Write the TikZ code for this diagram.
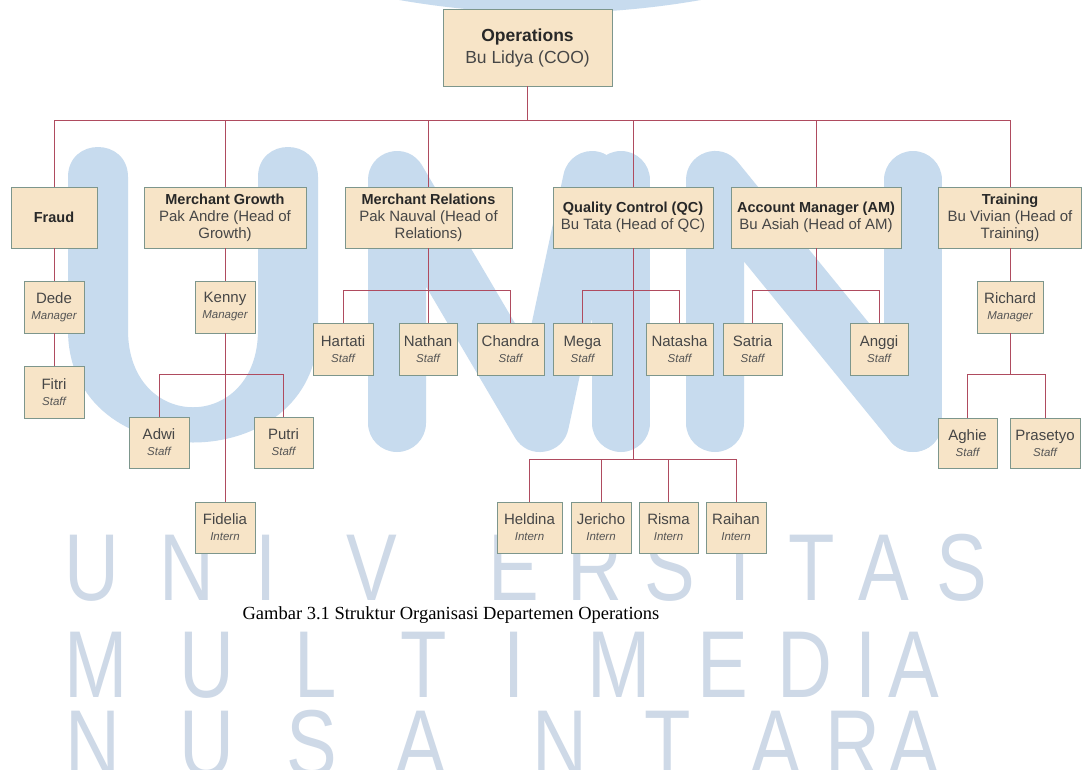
\documentclass[tikz,border=0pt]{standalone}
\usepackage{fontspec}
\setmainfont{Liberation Sans}
\newfontfamily\capfont{Liberation Serif}
\definecolor{boxfill}{RGB}{247,228,199}
\definecolor{boxline}{RGB}{125,150,140}
\definecolor{linecol}{RGB}{175,75,95}
\definecolor{txtdark}{RGB}{40,40,40}
\definecolor{txtmid}{RGB}{70,70,70}
\definecolor{txtrole}{RGB}{85,85,85}
\definecolor{wmblue}{RGB}{199,219,238}
\definecolor{wmgray}{RGB}{206,217,231}
\newcommand{\ttl}[1]{{\bfseries\color{txtdark}\fontsize{14.5}{17}\selectfont #1}}
\newcommand{\role}[1]{{\color{txtrole}\itshape\fontsize{11.5}{16}\selectfont #1}}
\begin{document}
\begin{tikzpicture}[x=1pt,y=-1pt,
  box/.style={draw=boxline, fill=boxfill, line width=0.9pt, inner sep=0pt, align=center, text=txtmid},
  headbox/.style={box, minimum height=61, font=\fontsize{15}{17}\selectfont},
  namebox/.style={box, minimum height=52, font=\fontsize{15}{16}\selectfont},
  conn/.style={draw=linecol, line width=0.9pt},
  wm/.style={draw=wmblue, line width=58pt, line cap=round, line join=round},
  wmletter/.style={text=wmgray, font=\fontsize{95}{95}\selectfont, anchor=base, inner sep=0pt}
]
\useasboundingbox (0,0) rectangle (1083,769);
\fill[white] (0,0) rectangle (1083,769);

% ---------- watermark ----------
\begin{scope}
\clip (0,0) rectangle (1083,769);
\fill[wmblue] (550,-859) circle[radius=872];
% U
\fill[wmblue] (68,177) -- (68,330) .. controls (68,480) and (318,480) .. (318,330)
  -- (318,177) .. controls (318,137) and (258,137) .. (258,177)
  -- (258,330) .. controls (258,433) and (128,433) .. (128,330)
  -- (128,177) .. controls (128,137) and (68,137) .. (68,177) -- cycle;
% M
\draw[wm] (397,423) -- (397,180) -- (540,423) -- (592,180);
\draw[wm] (621,180) -- (621,423);
% N
\draw[wm] (715,423) -- (715,180) -- (913,423);
\draw[wm] (913,180) -- (913,423);
% letter rows
\foreach \l/\x [count=\i] in {U/92,N/187,I/266,V/372,E/514,R/595,S/670,I/740,T/812,A/884,S/962}
  \node[wmletter] (wa\i) at (\x,600) {\scalebox{0.8}[1]{\l}};
\foreach \l/\x [count=\i] in {M/96,U/207,L/316,T/424,I/514,M/619,E/723,D/805,I/866,A/914}
  \node[wmletter] (wb\i) at (\x,697) {\scalebox{0.8}[1]{\l}};
\foreach \l/\x [count=\i] in {N/93,U/207,S/312,A/421,N/560,T/668,A/776,R/853,A/914}
  \node[wmletter] (wc\i) at (\x,776) {\scalebox{0.8}[1]{\l}};
\end{scope}

% ---------- nodes ----------
\node[box, minimum width=169, minimum height=77, font=\fontsize{17.5}{22}\selectfont] (ops) at (527.5,47.5)
  {{\bfseries\color{txtdark}Operations}\\Bu Lidya (COO)};

\node[headbox, minimum width=86]  (fraud) at (54,217.5) {\ttl{Fraud}};
\node[headbox, minimum width=162] (mg) at (225,217.5) {\ttl{Merchant Growth}\\Pak Andre (Head of\\Growth)};
\node[headbox, minimum width=167] (mr) at (428.5,217.5) {\ttl{Merchant Relations}\\Pak Nauval (Head of\\Relations)};
\node[headbox, minimum width=160] (qc) at (633,217.5) {\ttl{Quality Control (QC)}\\Bu Tata (Head of QC)};
\node[headbox, minimum width=170] (am) at (816,217.5) {\ttl{Account Manager (AM)}\\Bu Asiah (Head of AM)};
\node[headbox, minimum width=143] (tr) at (1010,217.5) {\ttl{Training}\\Bu Vivian (Head of\\Training)};

\node[namebox, minimum width=60] (dede) at (54,307) {Dede\\\role{Manager}};
\node[namebox, minimum width=60] (fitri) at (54,392) {Fitri\\\role{Staff}};
\node[namebox, minimum width=60] (kenny) at (225,307) {Kenny\\\role{Manager}};
\node[namebox, minimum width=66] (richard) at (1010,307) {Richard\\\role{Manager}};

\node[namebox, minimum width=60] (hartati) at (343,349) {Hartati\\\role{Staff}};
\node[namebox, minimum width=58] (nathan) at (428,349) {Nathan\\\role{Staff}};
\node[namebox, minimum width=67] (chandra) at (510.5,349) {Chandra\\\role{Staff}};
\node[namebox, minimum width=59] (mega) at (582.5,349) {Mega\\\role{Staff}};
\node[namebox, minimum width=67] (natasha) at (679.5,349) {Natasha\\\role{Staff}};
\node[namebox, minimum width=59] (satria) at (752.5,349) {Satria\\\role{Staff}};
\node[namebox, minimum width=58] (anggi) at (879,349) {Anggi\\\role{Staff}};

\node[namebox, minimum width=60, minimum height=51] (adwi) at (159,442.5) {Adwi\\\role{Staff}};
\node[namebox, minimum width=59, minimum height=51] (putri) at (283.5,442.5) {Putri\\\role{Staff}};
\node[namebox, minimum width=59, minimum height=50] (aghie) at (967.5,443) {Aghie\\\role{Staff}};
\node[namebox, minimum width=70, minimum height=50] (prasetyo) at (1045,443) {Prasetyo\\\role{Staff}};

\node[namebox, minimum width=60, minimum height=51] (fidelia) at (225,527.5) {Fidelia\\\role{Intern}};
\node[namebox, minimum width=65, minimum height=51] (heldina) at (529.5,527.5) {Heldina\\\role{Intern}};
\node[namebox, minimum width=60, minimum height=51] (jericho) at (601,527.5) {Jericho\\\role{Intern}};
\node[namebox, minimum width=59, minimum height=51] (risma) at (668.5,527.5) {Risma\\\role{Intern}};
\node[namebox, minimum width=60, minimum height=51] (raihan) at (736,527.5) {Raihan\\\role{Intern}};

\node[anchor=base, inner sep=0pt, font=\capfont\fontsize{18.5}{20}\selectfont] (cap) at (451,619)
  {Gambar 3.1 Struktur Organisasi Departemen Operations};

% ---------- connectors ----------
\coordinate (y120) at (0,120);
\coordinate (y290) at (0,290);
\coordinate (y374) at (0,374);
\coordinate (y459) at (0,459);

\coordinate (b0) at (ops.south |- y120);
\draw[conn] (ops.south) -- (b0);
\foreach \n in {fraud,mg,mr,qc,am,tr} \draw[conn] (b0) -| (\n.north);

\draw[conn] (fraud.south) -- (dede.north);
\draw[conn] (dede.south) -- (fitri.north);

\coordinate (kb) at (kenny.south |- y374);
\draw[conn] (mg.south) -- (kenny.north);
\draw[conn] (kenny.south) -- (fidelia.north);
\foreach \n in {adwi,putri} \draw[conn] (kb) -| (\n.north);

\coordinate (mrb) at (mr.south |- y290);
\draw[conn] (mr.south) -- (mrb);
\foreach \n in {hartati,nathan,chandra} \draw[conn] (mrb) -| (\n.north);

\coordinate (qcb) at (qc.south |- y290);
\coordinate (qib) at (qc.south |- y459);
\draw[conn] (qc.south) -- (qib);
\foreach \n in {mega,natasha} \draw[conn] (qcb) -| (\n.north);
\foreach \n in {heldina,jericho,risma,raihan} \draw[conn] (qib) -| (\n.north);

\coordinate (amb) at (am.south |- y290);
\draw[conn] (am.south) -- (amb);
\foreach \n in {satria,anggi} \draw[conn] (amb) -| (\n.north);

\coordinate (rb) at (richard.south |- y374);
\draw[conn] (tr.south) -- (richard.north);
\draw[conn] (richard.south) -- (rb);
\foreach \n in {aghie,prasetyo} \draw[conn] (rb) -| (\n.north);
\end{tikzpicture}
\end{document}
